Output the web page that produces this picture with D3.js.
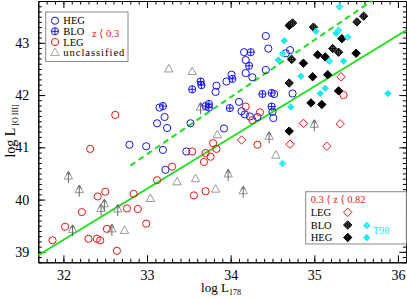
<!DOCTYPE html>
<html lang="en">
<head>
    <meta charset="UTF-8">
    <title>L[O III] vs L178</title>
    <script src="https://d3js.org/d3.v7.min.js"></script>
    <style>
        body { margin: 0; background: #fff; }
        svg { display: block; font-family: "Liberation Serif", "DejaVu Serif", serif; }
    </style>
</head>
<body>
    <div id="chart"></div>
    <script>
        // z < 0.3 sample: [log L178, log L[O III]]
        const hegLow = [[34.42,43.13],[34.45,42.89],[34.16,42.82],[34.18,42.67],[34.18,42.42],[34.26,42.34],
            [34.42,42.48],[34.01,42.39],[33.95,42.26],[33.83,42.18],[33.82,42.06],[34.71,42.86],[34.66,42.80],
            [34.74,42.03],[34.10,41.87],[34.13,41.69],[34.17,41.63],[34.23,41.59],[34.32,41.58],[34.51,41.56],
            [34.50,41.68],[33.92,41.36],[33.52,41.46],[33.24,41.37],[33.12,41.46],[33.21,41.58],[33.15,41.76],
            [32.99,41.02],[33.19,40.95],[33.47,40.92],[32.79,41.05],[33.22,40.57],[34.52,42.02]];
        const bloLow = [[34.24,42.82],[34.22,42.56],[34.02,42.31],[33.64,42.26],[33.65,42.19],[33.54,42.11],
            [33.74,41.83],[33.74,41.76],[33.70,41.79],[33.99,41.75],[34.38,42.02],[34.49,42.04],[34.49,41.78],
            [33.19,41.79]];
        const legLow = [[31.87,39.22],[32.02,39.48],[32.22,39.76],[32.30,39.25],[32.40,39.25],[32.44,39.22],
            [32.41,40.06],[32.50,40.15],[32.52,39.44],[32.64,39.02],[32.76,39.83],[32.84,40.11],[32.89,39.82],
            [32.99,39.54],[32.62,41.62],[32.32,40.97],[33.12,40.37],[33.30,40.63],[33.56,40.08],[33.70,40.16],
            [33.68,40.72],[33.70,40.89],[33.76,40.82],[33.79,41.08],[33.83,40.97],[33.54,40.92],[34.18,41.78],
            [34.26,41.52],[34.35,41.67],[34.32,41.05],[35.35,42.00]];
        const unclassified = [[33.26,42.50],[33.54,42.45],[33.84,41.24],[33.04,40.02],[33.36,40.34],
            [33.58,40.40],[33.82,40.20],[34.54,40.85],[32.73,39.41]];
        const unclassifiedLimits = [[32.06,40.45],[32.19,40.19],[32.11,39.43],[32.45,39.83],[32.49,39.92],
            [32.65,39.82],[32.58,39.44],[33.64,41.77],[34.46,41.21],[35.00,41.44],[33.97,40.49],[34.15,40.17]];

        // 0.3 < z < 0.82 sample
        const legHigh = [[35.32,42.35],[34.87,41.46],[35.31,41.45],[34.71,41.06],[35.15,41.02],[34.13,41.14]];
        const bloHigh = [[34.74,43.38],[34.99,43.30],[35.51,43.40],[35.59,43.51],[35.22,42.89],[35.29,42.82],
            [34.73,42.68],[34.70,42.23]];
        const hegHigh = [[34.70,43.33],[35.33,43.08],[35.04,42.77],[35.13,42.73],[35.50,42.80],[34.87,42.61],
            [34.98,42.35],[35.16,42.39],[35.29,42.08],[34.96,41.85],[35.09,41.82],[34.70,41.31]];
        const hegT98 = [[34.64,43.04],[35.02,43.22],[35.26,43.18],[35.35,42.65],[34.57,42.67],[34.84,42.36],
            [35.13,42.13],[35.07,42.03],[35.88,42.03],[34.72,41.77]];
        const bloT98 = [[35.30,43.69],[35.29,43.24],[35.40,43.11],[35.18,42.65],[34.62,42.79],[34.62,40.69]];

        // correlation lines, end points
        const solidFit = [[31.7,38.935],[36.1,43.24]];
        const dashedFit = [[32.80,40.65],[35.685,43.8]];

        const xMajor = [32, 33, 34, 35, 36];
        const yMajor = [39, 40, 41, 42, 43];

        const W = 407, H = 298;
        const x = d3.scaleLinear().domain([31.7, 36.1]).range([38.3, 406.3]);
        const y = d3.scaleLinear().domain([38.8, 43.8]).range([262.3, 1]);

        const svg = d3.select("#chart").append("svg")
            .attr("width", W).attr("height", H);

        const xMinor = d3.range(31.8, 36.1, 0.1).map(v => +v.toFixed(1));
        const yMinor = d3.range(38.8, 43.81, 0.1).map(v => +v.toFixed(1));

        function axis(gen, scale, vals, size, pos, labels) {
            const g = svg.append("g").attr("transform", pos)
                .call(gen(scale).tickValues(vals).tickSizeInner(size).tickSizeOuter(0)
                    .tickPadding(labels ? 8 : 0).tickFormat(labels ? d3.format("d") : ""));
            g.select(".domain").attr("stroke", "#000");
            g.selectAll("text").attr("font-family", "Liberation Serif").attr("font-size", 14).attr("fill", "#000");
            return g;
        }
        axis(d3.axisBottom, x, xMinor, -3.5, `translate(0,${y.range()[0]})`, false);
        axis(d3.axisBottom, x, xMajor, -7, `translate(0,${y.range()[0]})`, true);
        axis(d3.axisTop, x, xMinor, -3.5, `translate(0,${y.range()[1]})`, false);
        axis(d3.axisTop, x, xMajor, -7, `translate(0,${y.range()[1]})`, false);
        axis(d3.axisLeft, y, yMinor, -3.5, `translate(${x.range()[0]},0)`, false);
        axis(d3.axisLeft, y, yMajor, -7, `translate(${x.range()[0]},0)`, true).selectAll("text").attr("dx", -1);
        axis(d3.axisRight, y, yMinor, -3.5, `translate(${x.range()[1]},0)`, false);
        axis(d3.axisRight, y, yMajor, -7, `translate(${x.range()[1]},0)`, false);

        // axis titles
        const xt = svg.append("text").attr("x", 221).attr("y", 292).attr("text-anchor", "middle")
            .attr("font-size", 13);
        xt.append("tspan").text("log L");
        xt.append("tspan").attr("font-size", 8).attr("dy", 3).text("178");

        const yt = svg.append("text").attr("transform", "translate(15,131) rotate(-90)")
            .attr("text-anchor", "middle").attr("font-size", 14);
        yt.append("tspan").text("log L");
        yt.append("tspan").attr("font-size", 8).attr("dy", 3).attr("dx", 2).text("[O III]");

        const line = d3.line().x(d => x(d[0])).y(d => y(d[1]));
        const green = "#1fe01f";
        svg.append("path").datum(solidFit).attr("d", line)
            .attr("stroke", green).attr("stroke-width", 2).attr("fill", "none");
        svg.append("path").datum(dashedFit).attr("d", line)
            .attr("stroke", green).attr("stroke-width", 2).attr("stroke-dasharray", "6,4").attr("fill", "none");

        // marker shapes
        const diamond = s => `M0,${-s}L${s},0L0,${s}L${-s},0Z`;
        const tri = "M0,-4.5L4.2,3L-4.2,3Z";

        function circles(g, data, color, crossed) {
            const m = g.selectAll(null).data(data).join("g")
                .attr("transform", d => `translate(${x(d[0])},${y(d[1])})`);
            m.append("circle").attr("r", 3.6).attr("fill", "none").attr("stroke", color).attr("stroke-width", 1);
            if (crossed) {
                m.append("path").attr("d", "M-3.6,0H3.6M0,-3.6V3.6").attr("stroke", color).attr("stroke-width", 1);
            }
            return m;
        }
        function diamonds(g, data, s, fill, stroke, crossed) {
            const m = g.selectAll(null).data(data).join("g")
                .attr("transform", d => `translate(${x(d[0])},${y(d[1])})`);
            m.append("path").attr("d", diamond(s)).attr("fill", fill).attr("stroke", stroke).attr("stroke-width", 1);
            if (crossed) {
                m.append("circle").attr("r", s * 0.55).attr("fill", "none").attr("stroke", crossed).attr("stroke-width", 1);
                m.append("path").attr("d", `M${-s * 0.8},0H${s * 0.8}M0,${-s * 0.8}V${s * 0.8}`)
                    .attr("stroke", crossed).attr("stroke-width", 1);
            }
            return m;
        }
        function triangles(g, data, arrow) {
            const m = g.selectAll(null).data(data).join("g")
                .attr("transform", d => `translate(${x(d[0])},${y(d[1])})`);
            m.append("path").attr("d", tri).attr("fill", "none").attr("stroke", "#999").attr("stroke-width", 1);
            if (arrow) {
                m.append("path").attr("d", "M0,7V-4M-2.2,-1L0,-4.5L2.2,-1")
                    .attr("stroke", "#666").attr("stroke-width", 1).attr("fill", "none");
            }
            return m;
        }

        const pts = svg.append("g");
        triangles(pts, unclassified, false);
        triangles(pts, unclassifiedLimits, true);
        circles(pts, hegLow, "#1515f0", false);
        circles(pts, bloLow, "#1515f0", true);
        circles(pts, legLow, "#f01515", false);
        diamonds(pts, legHigh, 4.2, "#fff", "#f01515", null);
        diamonds(pts, hegHigh, 4.2, "#000", "#000", null);
        diamonds(pts, bloHigh, 4.2, "#888", "#000", "#000");
        diamonds(pts, hegT98, 3.2, "#1ee8ee", "#1ee8ee", null);
        diamonds(pts, bloT98, 3.4, "#fff", "#1ee8ee", "#1ee8ee");

        // legend, z < 0.3
        const lg1 = svg.append("g");
        lg1.append("rect").attr("x", 45.7).attr("y", 12).attr("width", 82.3).attr("height", 49.5)
            .attr("fill", "#fff").attr("stroke", "#888").attr("stroke-width", 1);
        const l1 = [
            { label: "HEG", y: 20.7, kind: "c" },
            { label: "BLO", y: 31.3, kind: "x" },
            { label: "LEG", y: 42, kind: "r" },
            { label: "unclassified", y: 52.5, kind: "t" }
        ];
        l1.forEach(e => {
            const g = lg1.append("g").attr("transform", `translate(55,${e.y})`);
            if (e.kind === "t") {
                g.append("path").attr("d", tri).attr("fill", "none").attr("stroke", "#aaa");
            } else {
                const col = e.kind === "r" ? "#f01515" : "#1515f0";
                g.append("circle").attr("r", 3.6).attr("fill", "none").attr("stroke", col);
                if (e.kind === "x") g.append("path").attr("d", "M-3.6,0H3.6M0,-3.6V3.6").attr("stroke", col);
            }
            lg1.append("text").attr("x", 63.3).attr("y", e.y + 3.6).attr("font-size", 10.5)
                .attr("fill", "#000").text(e.label)
                .attr("textLength", e.label === "unclassified" ? 61 : null);
        });
        lg1.append("text").attr("x", 92).attr("y", 36.5).attr("font-size", 10.5)
            .attr("fill", "#f01515").text("z \u27E8 0.3");

        // legend, 0.3 < z < 0.82
        const lg2 = svg.append("g");
        lg2.append("rect").attr("x", 305.7).attr("y", 191.7).attr("width", 100.6).attr("height", 52.3)
            .attr("fill", "#fff").attr("stroke", "#888").attr("stroke-width", 1);
        lg2.append("text").attr("x", 310.7).attr("y", 202.6).attr("font-size", 10.5)
            .attr("fill", "#f01515").text("0.3 \u27E8 z \u27E8 0.82");
        [["LEG", 212.3], ["BLO", 225], ["HEG", 237.5]].forEach(([t, yy]) => {
            lg2.append("text").attr("x", 310.7).attr("y", yy + 3.6).attr("font-size", 10.5)
                .attr("fill", "#000").text(t);
        });
        const dm = (cx, cy, s, fill, stroke, crossed) => {
            const g = lg2.append("g").attr("transform", `translate(${cx},${cy})`);
            g.append("path").attr("d", diamond(s)).attr("fill", fill).attr("stroke", stroke);
            if (crossed) {
                g.append("circle").attr("r", s * 0.55).attr("fill", "none").attr("stroke", crossed);
                g.append("path").attr("d", `M${-s * 0.8},0H${s * 0.8}M0,${-s * 0.8}V${s * 0.8}`).attr("stroke", crossed);
            }
        };
        dm(347.7, 212.3, 4.2, "#fff", "#f01515", null);
        dm(347.7, 225, 4.2, "#888", "#000", "#000");
        dm(347.7, 237.5, 4.2, "#000", "#000", null);
        dm(366.7, 225.5, 3.4, "#fff", "#1ee8ee", "#1ee8ee");
        dm(366.7, 237.7, 3.2, "#1ee8ee", "#1ee8ee", null);
        lg2.append("text").attr("x", 372.7).attr("y", 234).attr("font-size", 10.5)
            .attr("fill", "#1ee8ee").text("T98");
    </script>
</body>
</html>
